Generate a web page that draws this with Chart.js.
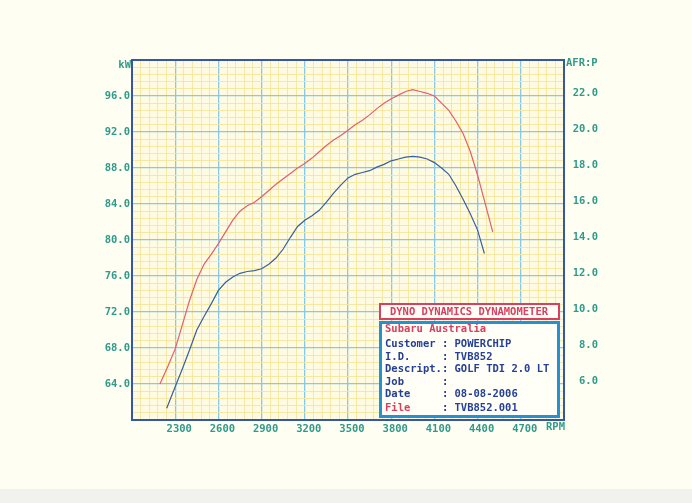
<!DOCTYPE html>
<html><head><meta charset="utf-8">
<script src="https://cdn.jsdelivr.net/npm/chart.js@4.4.1/dist/chart.umd.min.js"></script>
<style>html,body{margin:0;padding:0;background:#fffef2;}canvas{display:block}</style>
</head><body>
<canvas id="c" width="692" height="503"></canvas>
<script>
// ---- data ----
const rpmRed = [2194,2250,2300,2350,2400,2450,2500,2550,2600,2650,2700,2750,2800,2850,2900,2950,3000,3050,3100,3150,3200,3250,3300,3350,3400,3450,3500,3550,3600,3650,3700,3750,3800,3850,3900,3950,4000,4050,4100,4150,4200,4250,4300,4350,4400,4450,4505];
const kwRed  = [64.0,66.0,67.9,70.6,73.3,75.6,77.3,78.4,79.6,80.9,82.2,83.2,83.8,84.2,84.8,85.5,86.2,86.8,87.4,88.0,88.5,89.1,89.8,90.5,91.1,91.6,92.2,92.8,93.3,93.9,94.6,95.2,95.7,96.1,96.5,96.7,96.5,96.3,96.0,95.2,94.4,93.2,91.8,89.8,87.2,84.2,80.9];
const rpmBlue = [2241,2300,2350,2400,2450,2500,2550,2600,2650,2700,2750,2800,2850,2900,2950,3000,3050,3100,3150,3200,3250,3300,3350,3400,3450,3500,3550,3600,3650,3700,3750,3800,3850,3900,3950,4000,4050,4100,4150,4200,4250,4300,4350,4400,4447];
const kwBlue  = [61.3,63.7,65.7,67.8,70.0,71.5,72.9,74.4,75.3,75.9,76.3,76.5,76.6,76.8,77.3,78.0,79.0,80.3,81.5,82.2,82.7,83.3,84.2,85.2,86.1,86.9,87.3,87.5,87.7,88.1,88.4,88.8,89.0,89.2,89.3,89.2,89.0,88.6,88.0,87.3,86.0,84.5,82.9,81.1,78.5];
const rpmTickLabels = ['2300','2600','2900','3200','3500','3800','4100','4400','4700'];
const kwTickLabels  = ['96.0','92.0','88.0','84.0','80.0','76.0','72.0','68.0','64.0'];
const afrTickLabels = ['22.0','20.0','18.0','16.0','14.0','12.0','10.0','8.0','6.0'];
const boxTitle = 'DYNO DYNAMICS DYNAMOMETER';
const boxHeader = 'Subaru Australia';
const infoLabels = ['Customer','I.D.','Descript.','Job','Date','File'];
const infoValues = ['POWERCHIP','TVB852','GOLF TDI 2.0 LT','','08-08-2006','TVB852.001'];

// ---- styles ----
const MONO = '"DejaVu Sans Mono", "Liberation Mono", monospace';
const TEAL = '#2f9a8a';
const MAJOR = 'rgba(128,198,232,0.95)';
const MINOR = 'rgba(246,230,160,0.95)';
const FRAME = '#3556a6';
const BOXBLUE = '#2590d4';
const BOXRED = '#d8405e';
const TXTBLUE = '#243f96';

const paper = {
  id: 'paper',
  beforeDraw(chart) {
    const {ctx, chartArea: a} = chart;
    ctx.save();
    ctx.fillStyle = '#fffef2';
    ctx.fillRect(0, 0, chart.width, chart.height);
    ctx.fillStyle = '#f1f1ee';
    ctx.fillRect(0, 489, chart.width, chart.height - 489);
    ctx.fillStyle = '#fffbe2';
    ctx.fillRect(a.left, a.top, a.right - a.left, a.bottom - a.top);
    ctx.restore();
  },
  afterDraw(chart) {
    const {ctx, chartArea: a} = chart;
    ctx.save();
    // frame
    ctx.strokeStyle = FRAME;
    ctx.lineWidth = 2;
    ctx.strokeRect(a.left, a.top, a.right - a.left, a.bottom - a.top);
    // unit labels
    ctx.font = 'bold 10.5px ' + MONO;
    ctx.fillStyle = TEAL;
    ctx.textBaseline = 'middle';
    ctx.textAlign = 'right';
    ctx.fillText('kW', a.left - 1, 65);
    ctx.textAlign = 'left';
    ctx.fillText('AFR:P', a.right + 2, 63);
    ctx.fillText('RPM', 546, 427);
    // info box
    ctx.fillStyle = '#fffff8';
    ctx.fillRect(380, 304, 179, 15);
    ctx.strokeStyle = BOXRED;
    ctx.lineWidth = 2;
    ctx.strokeRect(380, 304, 179, 15);
    ctx.fillStyle = '#fffff8';
    ctx.fillRect(380.5, 322.5, 178, 94);
    ctx.strokeStyle = BOXBLUE;
    ctx.lineWidth = 3;
    ctx.strokeRect(380.5, 322.5, 178, 94);
    ctx.textAlign = 'center';
    ctx.fillStyle = BOXRED;
    ctx.fillText(boxTitle, 469, 312);
    ctx.textAlign = 'left';
    ctx.fillText(boxHeader, 385, 329.5);
    const ys = [344, 357, 369.5, 382, 394.5, 408.5];
    const cw = 6.32;
    infoLabels.forEach((lab, i) => {
      ctx.fillStyle = (lab === 'File') ? BOXRED : TXTBLUE;
      ctx.fillText(lab, 385, ys[i]);
      ctx.fillStyle = TXTBLUE;
      ctx.fillText(':', 385 + 9 * cw, ys[i]);
      if (infoValues[i]) ctx.fillText(infoValues[i], 385 + 11 * cw, ys[i]);
    });
    ctx.restore();
  }
};

const tickFont = {family: MONO, size: 10.5, weight: 'bold'};

new Chart(document.getElementById('c'), {
  type: 'line',
  data: {
    datasets: [
      {label: 'kW red', data: rpmRed.map((r, i) => ({x: r, y: kwRed[i]})), borderColor: '#e2606c', borderWidth: 1.2, pointRadius: 0, tension: 0, yAxisID: 'y'},
      {label: 'kW blue', data: rpmBlue.map((r, i) => ({x: r, y: kwBlue[i]})), borderColor: '#36609e', borderWidth: 1.2, pointRadius: 0, tension: 0, yAxisID: 'y'}
    ]
  },
  options: {
    responsive: false,
    animation: false,
    devicePixelRatio: 1,
    layout: {padding: {left: 0, right: 94, top: 60, bottom: 0}},
    plugins: {legend: {display: false}, tooltip: {enabled: false}, title: {display: false}},
    scales: {
      x: {
        type: 'linear', min: 2000, max: 5000,
        afterFit(s) { s.height = 83; },
        border: {display: false},
        grid: {drawTicks: false, color: c => (c.index % 5 === 0 ? MAJOR : MINOR), lineWidth: c => (c.index % 5 === 0 ? 1.3 : 1)},
        ticks: {
          stepSize: 60, autoSkip: false, maxRotation: 0, padding: 3, labelOffset: 4,
          color: TEAL, font: tickFont,
          callback: v => { const l = String(Math.round(v)); return rpmTickLabels.includes(l) ? l : ''; }
        }
      },
      y: {
        type: 'linear', position: 'left', min: 60, max: 100,
        afterFit(s) { s.width = 132; },
        border: {display: false},
        grid: {drawTicks: false, color: c => (c.index % 5 === 0 ? MAJOR : MINOR), lineWidth: c => (c.index % 5 === 0 ? 1.3 : 1)},
        ticks: {
          stepSize: 0.8, autoSkip: false, padding: 2,
          color: TEAL, font: tickFont,
          callback: v => { const l = Number(v).toFixed(1); return kwTickLabels.includes(l) ? l : ''; }
        }
      },
      y1: {
        type: 'linear', position: 'right', min: 4, max: 24,
        afterFit(s) { s.width = 34; },
        border: {display: false},
        grid: {display: false, drawTicks: false},
        ticks: {
          stepSize: 2, autoSkip: false, padding: 8, crossAlign: 'far', labelOffset: -2.5,
          color: TEAL, font: tickFont,
          callback: v => { const l = Number(v).toFixed(1); return afrTickLabels.includes(l) ? l : ''; }
        }
      }
    }
  },
  plugins: [paper]
});
</script>
</body></html>
